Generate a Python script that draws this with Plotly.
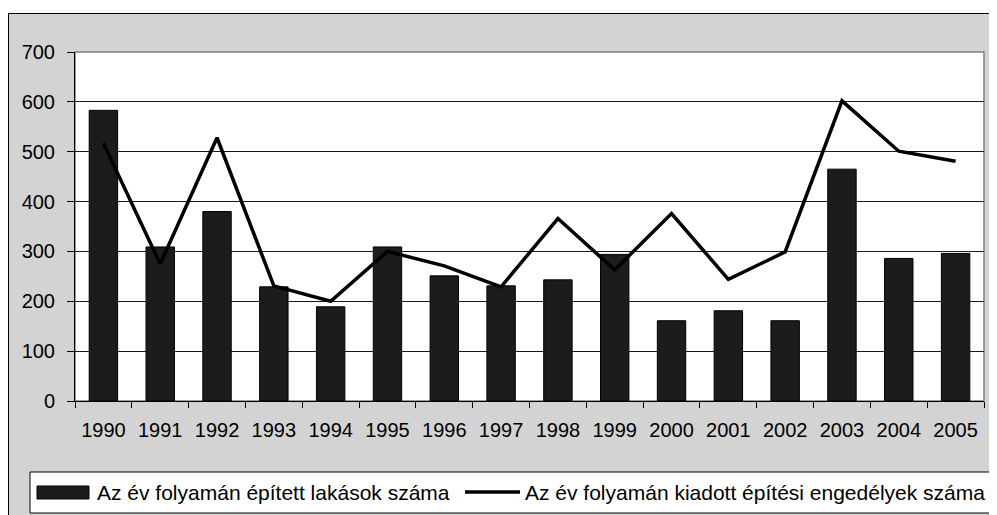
import plotly.graph_objects as go

years = [str(y) for y in range(1990, 2006)]
built = [583, 309, 380, 229, 189, 309, 251, 231, 243, 294, 161, 181, 161, 465, 286, 296]
permits = [517, 275, 528, 231, 200, 300, 271, 229, 366, 263, 376, 244, 299, 602, 501, 481]

name_built = "Az év folyamán épített lakások száma"
name_permits = "Az év folyamán kiadott építési engedélyek száma"

# the page body has an 8px margin, so the figure is a bit smaller than the window
OFF = 8
W, H = 997 - OFF, 515 - OFF
# plot area in screen pixels: x 75..984, y 52..401
L, R, T, B = 75 - OFF, W - (984 - OFF), 52 - OFF, H - (401 - OFF)
PW, PH = W - L - R, H - T - B
FONT = "Liberation Sans, Arial, sans-serif"


def px(x):
    # screen pixel column -> paper x
    return (x - OFF - L) / PW


def py(y):
    # screen pixel row -> paper y
    return (H - B - (y - OFF)) / PH


fig = go.Figure()
fig.add_trace(go.Bar(
    x=years, y=built, name=name_built, width=0.5,
    marker=dict(color="#1c1c1c", line=dict(color="#000", width=1)),
    showlegend=False,
))
fig.add_trace(go.Scatter(
    x=years, y=permits, name=name_permits, mode="lines",
    line=dict(color="#000", width=3.5), showlegend=False,
))

shapes = [
    # grey chart area with black frame (cropped at right/bottom)
    dict(type="rect", xref="paper", yref="paper", layer="below",
         x0=px(8.5), x1=px(1010), y0=py(530), y1=py(13.5),
         fillcolor="#d3d3d3", line=dict(color="#000", width=1)),
    # white plot area
    dict(type="rect", xref="paper", yref="paper", layer="below",
         x0=0, x1=1, y0=0, y1=1,
         fillcolor="#fff", line=dict(color="#808080", width=1.5)),
    # legend box
    dict(type="rect", xref="paper", yref="paper",
         x0=px(30), x1=px(995), y0=py(513), y1=py(472),
         fillcolor="#fff", line=dict(color="#000", width=1)),
    # legend swatches
    dict(type="rect", xref="paper", yref="paper",
         x0=px(37), x1=px(89), y0=py(499), y1=py(486),
         fillcolor="#1c1c1c", line=dict(color="#000", width=1)),
    dict(type="line", xref="paper", yref="paper",
         x0=px(465), x1=px(520), y0=py(492), y1=py(492),
         line=dict(color="#000", width=3.5)),
]

annotations = [
    dict(text=name_built, xref="paper", yref="paper", x=px(95), y=py(492),
         xanchor="left", yanchor="middle", showarrow=False,
         font=dict(size=21, color="#000", family=FONT)),
    dict(text=name_permits, xref="paper", yref="paper", x=px(523), y=py(492),
         xanchor="left", yanchor="middle", showarrow=False,
         font=dict(size=21, color="#000", family=FONT)),
]

fig.update_layout(
    width=W, height=H,
    margin=dict(l=L, r=R, t=T, b=B, pad=0),
    paper_bgcolor="#fff", plot_bgcolor="rgba(0,0,0,0)",
    font=dict(family=FONT, size=20, color="#000"),
    shapes=shapes, annotations=annotations,
    bargap=0.5,
)
fig.update_xaxes(
    type="category", tickson="boundaries", ticks="outside", ticklen=6,
    tickcolor="#000", showline=True, linecolor="#000", linewidth=1,
    showgrid=False, tickfont=dict(size=20), ticklabelstandoff=11,
)
fig.update_yaxes(
    range=[0, 700], dtick=100, ticks="outside", ticklen=7, tickcolor="#000",
    showline=True, linecolor="#000", linewidth=1,
    showgrid=True, gridcolor="#1a1a1a", gridwidth=1, zeroline=False,
    tickfont=dict(size=20), ticklabelstandoff=8,
)

fig.write_html("out.html")
